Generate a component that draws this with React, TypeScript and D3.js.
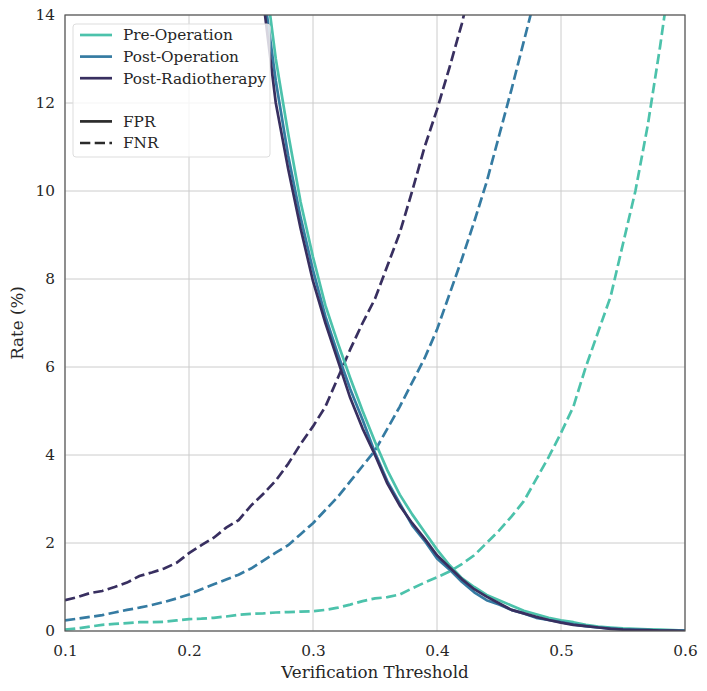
import { useRef, useEffect } from "react";
import * as d3 from "d3";

const width = 707;
const height = 691;
const margin = { top: 15, right: 22, bottom: 60, left: 65 };

const COLORS = ["#4cc2ab", "#357ba2", "#382f60"];
const GROUPS = ["Pre-Operation", "Post-Operation", "Post-Radiotherapy"];

// FNR thresholds 0.10 .. (step 0.01)
const fnrX = d3.range(0, 50).map((i) => +(0.1 + i * 0.01).toFixed(2));
const fnrPre = [
  0.03, 0.06, 0.1, 0.14, 0.16, 0.18, 0.2, 0.2, 0.21, 0.24,
  0.27, 0.28, 0.3, 0.33, 0.37, 0.39, 0.4, 0.42, 0.43, 0.44,
  0.45, 0.48, 0.53, 0.6, 0.68, 0.74, 0.77, 0.83, 0.97, 1.1,
  1.22, 1.35, 1.52, 1.72, 2.0, 2.28, 2.6, 2.95, 3.45, 3.95,
  4.5, 5.1, 6.0, 6.8, 7.6, 8.8, 10.0, 11.5, 13.3, 15.3,
];
const fnrPostOp = [
  0.24, 0.28, 0.32, 0.36, 0.42, 0.48, 0.53, 0.59, 0.66, 0.74,
  0.83, 0.95, 1.06, 1.17, 1.28, 1.42, 1.6, 1.78, 1.95, 2.2,
  2.45, 2.75, 3.05, 3.4, 3.75, 4.1, 4.6, 5.1, 5.65, 6.2,
  6.85, 7.65, 8.45, 9.3, 10.2, 11.25, 12.3, 13.4, 14.5, 15.7,
  17, 18, 19, 20, 21, 22, 23, 24, 25, 26,
];
const fnrPostRad = [
  0.7, 0.77, 0.86, 0.91, 1.0, 1.1, 1.25, 1.33, 1.42, 1.55,
  1.77, 1.95, 2.12, 2.35, 2.52, 2.85, 3.12, 3.42, 3.8, 4.25,
  4.65, 5.1, 5.75, 6.4, 7.0, 7.55, 8.3, 9.05, 10.0, 11.0,
  11.85, 12.8, 13.8, 15.0, 16.2, 17.5, 19, 20, 21, 22,
  23, 24, 25, 26, 27, 28, 29, 30, 31, 32,
];

// FPR thresholds 0.25 .. 0.60 (values above the axis are clipped)
const fprX = d3.range(0, 36).map((i) => +(0.25 + i * 0.01).toFixed(2));
const fprPre = [
  17.5, 15.2, 13.0, 11.3, 9.75, 8.5, 7.4, 6.55, 5.75, 5.0,
  4.3, 3.65, 3.1, 2.65, 2.25, 1.85, 1.5, 1.2, 1.0, 0.82,
  0.7, 0.58, 0.46, 0.38, 0.3, 0.24, 0.2, 0.14, 0.1, 0.08,
  0.06, 0.05, 0.04, 0.03, 0.02, 0.01,
];
const fprPostOp = [
  17.0, 14.6, 12.5, 10.8, 9.4, 8.2, 7.15, 6.3, 5.5, 4.8,
  4.05, 3.4, 2.9, 2.4, 2.05, 1.65, 1.4, 1.12, 0.88, 0.7,
  0.6, 0.48, 0.4, 0.3, 0.25, 0.2, 0.15, 0.11, 0.08, 0.06,
  0.04, 0.03, 0.02, 0.01, 0.01, 0.01,
];
const fprPostRad = [
  16.8, 14.3, 12.0, 10.5, 9.15, 7.95, 7.0, 6.15, 5.3, 4.6,
  4.0, 3.35, 2.85, 2.45, 2.1, 1.72, 1.45, 1.18, 0.95, 0.78,
  0.63, 0.48, 0.4, 0.32, 0.25, 0.19, 0.14, 0.11, 0.08, 0.05,
  0.03, 0.02, 0.02, 0.01, 0.01, 0.0,
];

const xTicks = [0.1, 0.2, 0.3, 0.4, 0.5, 0.6];
const yTicks = [0, 2, 4, 6, 8, 10, 12, 14];

const FONT = "DejaVu Serif, Liberation Serif, serif";

export default function App() {
  const ref = useRef<SVGSVGElement | null>(null);

  useEffect(() => {
    const svg = d3.select(ref.current);
    svg.selectAll("*").remove();

    const x = d3
      .scaleLinear()
      .domain([0.1, 0.6])
      .range([margin.left, width - margin.right]);
    const y = d3
      .scaleLinear()
      .domain([0, 14])
      .range([height - margin.bottom, margin.top]);

    svg.append("rect").attr("width", width).attr("height", height).attr("fill", "#fff");

    svg
      .append("defs")
      .append("clipPath")
      .attr("id", "plot-clip")
      .append("rect")
      .attr("x", margin.left)
      .attr("y", margin.top)
      .attr("width", width - margin.left - margin.right)
      .attr("height", height - margin.top - margin.bottom);

    // grid
    const grid = svg.append("g").attr("stroke", "#cccccc").attr("stroke-width", 1);
    xTicks.forEach((t) => {
      grid.append("line").attr("x1", x(t)).attr("x2", x(t)).attr("y1", y(0)).attr("y2", y(14));
    });
    yTicks.forEach((t) => {
      grid.append("line").attr("x1", x(0.1)).attr("x2", x(0.6)).attr("y1", y(t)).attr("y2", y(t));
    });

    // tick labels
    const xAxis = svg
      .append("g")
      .attr("transform", `translate(0,${y(0)})`)
      .call(d3.axisBottom(x).tickValues(xTicks).tickSize(0).tickPadding(14).tickFormat(d3.format(".1f")));
    const yAxis = svg
      .append("g")
      .attr("transform", `translate(${x(0.1)},0)`)
      .call(d3.axisLeft(y).tickValues(yTicks).tickSize(0).tickPadding(10).tickFormat(d3.format("d")));
    [xAxis, yAxis].forEach((a) => {
      a.attr("font-family", FONT).attr("font-size", 15.3);
      a.select(".domain").remove();
      a.selectAll("text").style("font-family", FONT).attr("fill", "#262626");
    });

    const lines = svg.append("g").attr("clip-path", "url(#plot-clip)");
    const line = d3
      .line<[number, number]>()
      .x((d) => x(d[0]))
      .y((d) => y(d[1]));

    const fnr = [fnrPre, fnrPostOp, fnrPostRad];
    const fpr = [fprPre, fprPostOp, fprPostRad];

    fnr.forEach((vals, i) => {
      lines
        .append("path")
        .attr("d", line(fnrX.map((t, j) => [t, vals[j]] as [number, number])))
        .attr("fill", "none")
        .attr("stroke", COLORS[i])
        .attr("stroke-width", 2.7)
        .attr("stroke-dasharray", "10.3,4.4");
    });
    fpr.forEach((vals, i) => {
      lines
        .append("path")
        .attr("d", line(fprX.map((t, j) => [t, vals[j]] as [number, number])))
        .attr("fill", "none")
        .attr("stroke", COLORS[i])
        .attr("stroke-width", 2.7)
        .attr("stroke-linejoin", "round");
    });

    // frame
    svg
      .append("rect")
      .attr("x", margin.left)
      .attr("y", margin.top)
      .attr("width", width - margin.left - margin.right)
      .attr("height", height - margin.top - margin.bottom)
      .attr("fill", "none")
      .attr("stroke", "#555")
      .attr("stroke-width", 1.2);

    // axis labels
    svg
      .append("text")
      .attr("x", (x(0.1) + x(0.6)) / 2)
      .attr("y", height - 13)
      .attr("text-anchor", "middle")
      .style("font-family", FONT)
      .attr("font-size", 16.7)
      .attr("fill", "#262626")
      .text("Verification Threshold");
    svg
      .append("text")
      .attr("transform", `translate(23,${(y(0) + y(14)) / 2}) rotate(-90)`)
      .attr("text-anchor", "middle")
      .style("font-family", FONT)
      .attr("font-size", 16.7)
      .attr("fill", "#262626")
      .text("Rate (%)");

    // legend
    const lg = svg.append("g").attr("transform", "translate(73,24)");
    lg.append("rect")
      .attr("width", 197)
      .attr("height", 133)
      .attr("rx", 3)
      .attr("fill", "#fff")
      .attr("fill-opacity", 0.8)
      .attr("stroke", "#dddddd");
    const entries = [
      ...GROUPS.map((g, i) => ({ label: g, color: COLORS[i], dash: "" })),
      { label: "", color: "none", dash: "" },
      { label: "FPR", color: "#2b2b2b", dash: "" },
      { label: "FNR", color: "#2b2b2b", dash: "10.3,4.4" },
    ];
    entries.forEach((e, i) => {
      const cy = 11 + i * 21.6;
      if (!e.label) return;
      lg.append("line")
        .attr("x1", 7)
        .attr("x2", 39)
        .attr("y1", cy)
        .attr("y2", cy)
        .attr("stroke", e.color)
        .attr("stroke-width", 2.7)
        .attr("stroke-dasharray", e.dash || null);
      lg.append("text")
        .attr("x", 50)
        .attr("y", cy)
        .attr("dy", "0.35em")
        .style("font-family", FONT)
        .attr("font-size", 15.3)
        .attr("fill", "#262626")
        .text(e.label);
    });
  }, []);

  return <svg ref={ref} width={width} height={height} style={{ display: "block", margin: -8 }} />;
}
